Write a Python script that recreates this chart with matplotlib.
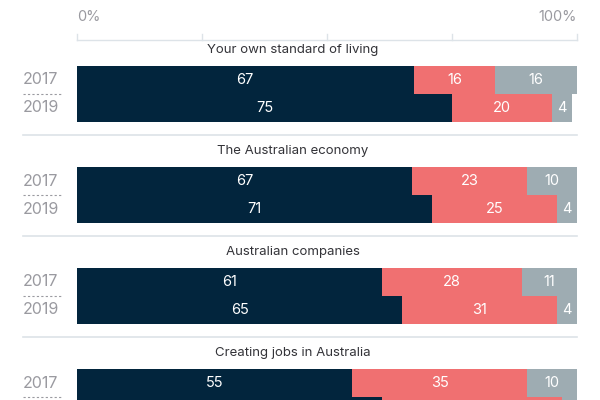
import numpy as np
import matplotlib.pyplot as plt

plt.rcParams['font.family'] = ['Inter', 'DejaVu Sans']

# survey items and shares (%): positive / negative / neutral
groups = ['Your own standard of living', 'The Australian economy',
          'Australian companies', 'Creating jobs in Australia']
years = ['2017', '2019']
dark = [[67.3, 75], [67, 71], [61, 65], [55, 61]]
red = [[16.4, 20], [23, 25], [28, 31], [35, 36]]
grey = [[16.3, 4], [10, 4], [11, 4], [10, 3]]

c_dark = '#02253d'
c_red = '#f07071'
c_grey = '#9eacb2'
c_line = '#dde3e8'
c_text = '#9a9aa0'

fig = plt.figure(figsize=(6, 4), dpi=100)
# axes: x in percent (0-100 -> px 77-577), y in pixels from top
ax = fig.add_axes([77 / 600, 0, 500 / 600, 1])
ax.set_xlim(0, 100)
ax.set_ylim(400, 0)
ax.axis('off')

px = 100 / 500  # percent per pixel

# top scale
ax.plot([0, 100], [40, 40], color=c_line, lw=1, clip_on=False)
for t in [0, 25, 50, 75, 100]:
    ax.plot([t, t], [34, 40], color=c_line, lw=1, clip_on=False)
ax.text(0, 17, '0%', color=c_text, fontsize=10.5, ha='left', va='center')
ax.text(100, 17, '100%', color=c_text, fontsize=10.5, ha='right', va='center')

bar_h = 28
for i, g in enumerate(groups):
    top = 66 + 101 * i
    ax.text((293 - 77) * px, top - 16, g, color='#333338', fontsize=9.5,
            ha='center', va='center')
    for j, yr in enumerate(years):
        yc = top + bar_h * j + bar_h / 2
        vals = [dark[i][j], red[i][j], grey[i][j]]
        left = 0
        for v, c in zip(vals, [c_dark, c_red, c_grey]):
            ax.barh(yc, v, left=left, height=bar_h, color=c, linewidth=0)
            if yc < 400:
                ax.text(left + v / 2, yc, str(int(round(v))), color='white',
                        fontsize=10.5, ha='center', va='center')
            left += v
        if yc < 400:
            ax.text((23 - 77) * px, yc, yr, color=c_text, fontsize=11.5,
                    ha='left', va='center', clip_on=False)
    ax.plot([(23 - 77) * px, (62 - 77) * px], [top + bar_h, top + bar_h],
            color=c_text, lw=0.8, ls=(0, (2, 2)), clip_on=False)
    sep = top + 2 * bar_h + 13
    ax.plot([(23 - 77) * px, 100], [sep, sep], color=c_line, lw=1.2,
            clip_on=False)

fig.savefig('out.png', dpi=100)
